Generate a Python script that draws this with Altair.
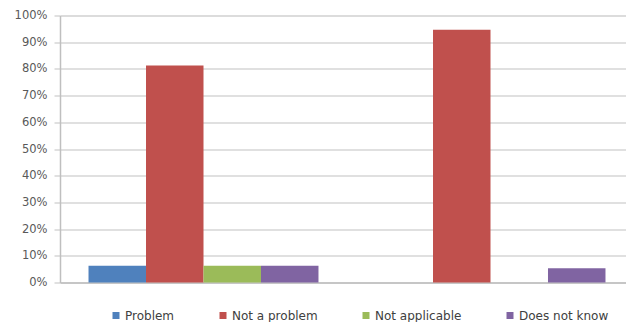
import altair as alt
import pandas as pd

# Response shares for the two survey groups
groups = ["Group A", "Group B"]
categories = ["Problem", "Not a problem", "Not applicable", "Does not know"]
group_a = [0.0625, 0.8125, 0.0625, 0.0625]
group_b = [0.0, 0.947, 0.0, 0.053]
colors = ["#4F81BD", "#C0504D", "#9BBB59", "#8064A2"]

rows = []
for g, vals in zip(groups, [group_a, group_b]):
    for c, v in zip(categories, vals):
        rows.append({"group": g, "category": c, "share": v})
df = pd.DataFrame(rows)

font = "DejaVu Sans"

chart = (
    alt.Chart(df)
    .mark_bar()
    .encode(
        x=alt.X(
            "group:N",
            sort=groups,
            scale=alt.Scale(range=[0, 574], paddingInner=0, paddingOuter=0),
            axis=alt.Axis(
                title=None,
                labels=False,
                ticks=False,
                grid=False,
                domainColor="#bfbfbf",
                domainWidth=1.5,
            ),
        ),
        xOffset=alt.XOffset(
            "category:N",
            sort=categories,
            scale=alt.Scale(paddingInner=0, paddingOuter=0.496),
        ),
        y=alt.Y(
            "share:Q",
            scale=alt.Scale(domain=[0, 1], nice=False),
            axis=alt.Axis(
                title=None,
                format=".0%",
                values=[i / 10 for i in range(11)],
                grid=True,
                gridColor="#d6d6d6",
                gridWidth=1.5,
                tickColor="#d6d6d6",
                tickWidth=1.5,
                tickSize=6,
                domainColor="#bfbfbf",
                domainWidth=1.5,
                labelPadding=7,
                labelFont=font,
                labelFontSize=11.5,
                labelColor="#595959",
            ),
        ),
        color=alt.Color(
            "category:N",
            sort=categories,
            scale=alt.Scale(domain=categories, range=colors),
            legend=alt.Legend(
                title=None,
                orient="none",
                legendX=50,
                legendY=294,
                direction="horizontal",
                columns=4,
                columnPadding=42,
                symbolType="square",
                symbolSize=49,
                symbolStrokeWidth=0,
                labelOffset=3,
                labelFont=font,
                labelFontSize=12,
                labelColor="#404040",
            ),
        ),
    )
    .properties(
        width=566,
        height=267,
        padding={"left": 60, "top": 15.5, "right": 0, "bottom": 39.5},
        autosize=alt.AutoSizeParams(type="none"),
    )
    .configure_view(stroke=None)
    .configure(background="#ffffff")
)

chart.save("out.html", embed_options={"renderer": "svg", "actions": False})
